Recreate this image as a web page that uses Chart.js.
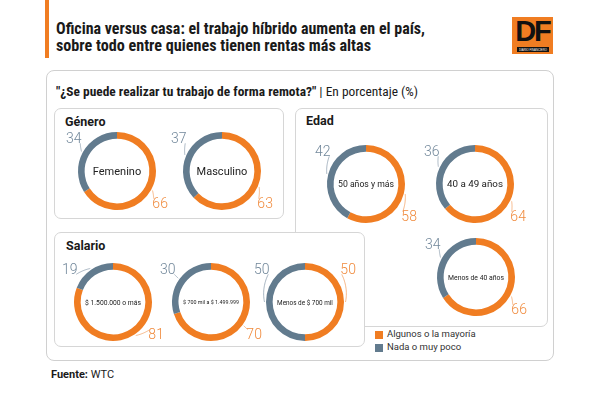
<!DOCTYPE html>
<html>
<head>
<meta charset="utf-8">
<script src="https://cdn.jsdelivr.net/npm/chart.js@4.4.1/dist/chart.umd.min.js"></script>
<style>
  html, body { margin: 0; padding: 0; background: #fff; }
  #page { position: relative; width: 600px; height: 394px; overflow: hidden; font-family: Roboto, "Noto Sans", sans-serif; color: #1a1a1a; }
  .abs { position: absolute; }
  .fit { white-space: nowrap; transform-origin: 0 50%; display: inline-block; }
  .narrow { font-family: "Liberation Sans Narrow", "Roboto Condensed", Roboto, sans-serif; }
  .box { position: absolute; border: 1px solid #d6d6d6; border-radius: 7px; background: #fff; box-sizing: border-box; }
  .boxTitle { position: absolute; font-weight: 700; font-size: 12.5px; }
  canvas { position: absolute; }
  .sw { position: absolute; width: 8px; height: 8px; }
  .lg { position: absolute; font-size: 9.5px; color: #333; }
</style>
</head>
<body>
<div id="page">
  <div class="abs" style="left:45px;top:0;width:4px;height:58px;background:#f07d22"></div>
  <div class="abs narrow" style="left:56px;top:20px;font-weight:700;font-size:16px;line-height:17px;color:#1a1a1a">
    <span class="fit" data-w="369">Oficina versus casa: el trabajo híbrido aumenta en el país,</span><br>
    <span class="fit" data-w="315">sobre todo entre quienes tienen rentas más altas</span>
  </div>
  <!-- logo -->
  <div class="abs" style="left:512px;top:17px;width:41px;height:37px;background:#f07d22"></div>
  <div class="abs" style="left:512px;top:17px;width:41px;text-align:center;font-family:'Liberation Sans',Arial,sans-serif;font-weight:700;font-size:29px;line-height:29px;letter-spacing:-2px;color:#111">DF</div>
  <div class="abs" style="left:517px;top:47px;width:32px;height:5px;background:#111"></div>
  <div class="abs" style="left:519px;top:47px;font-size:4px;line-height:5px;color:#fff;font-family:'Liberation Sans',sans-serif"><span class="fit" data-w="28">DIARIO FINANCIERO</span></div>

  <div class="box" style="left:46px;top:70px;width:508px;height:291px;border-color:#d0d0d0;border-radius:8px"></div>
  <div class="abs narrow" style="left:56px;top:84px;font-size:13px;line-height:16px">
    <span class="fit" data-w="362"><b>"¿Se puede realizar tu trabajo de forma remota?"</b> | En porcentaje (%)</span>
  </div>

  <div class="box" style="left:54px;top:108px;width:230px;height:111px"></div>
  <div class="boxTitle" style="left:65px;top:114px">Género</div>
  <div class="box" style="left:295px;top:108px;width:253px;height:219px"></div>
  <div class="boxTitle" style="left:306px;top:113px">Edad</div>
  <div class="box" style="left:54px;top:232px;width:311px;height:115px"></div>
  <div class="boxTitle" style="left:66px;top:238px">Salario</div>

  <div class="sw" style="left:375px;top:331px" id="sw0"></div>
  <div class="lg" style="left:387px;top:328px" id="lg0"></div>
  <div class="sw" style="left:375px;top:344px" id="sw1"></div>
  <div class="lg" style="left:387px;top:341px" id="lg1"></div>

  <div class="abs" style="left:51px;top:368px;font-size:11px"><b>Fuente:</b> WTC</div>
</div>

<script>
// data
const seriesNames = ['Algunos o la mayoría', 'Nada o muy poco'];

const generoLabels = ['Femenino', 'Masculino'];
const generoMayoria = [66, 63];
const generoPoco = [34, 37];

const edadLabels = ['50 años y más', '40 a 49 años', 'Menos de 40 años'];
const edadMayoria = [58, 64, 66];
const edadPoco = [42, 36, 34];

const salarioLabels = ['$ 1.500.000 o más', '$ 700 mil a $ 1.499.999', 'Menos de $ 700 mil'];
const salarioMayoria = [81, 70, 50];
const salarioPoco = [19, 30, 50];

const ORANGE = '#f07d22';
const GREY = '#627b8e';
const TXT_COLORS = ['#f08a3c', '#71879a'];

// where each ring sits on the page (centre points of the canvases)
const generoPos = [[117, 171], [222, 171]];
const edadPos = [[366, 184], [475, 184], [476, 277]];
const salarioPos = [[113, 302], [211, 302], [305, 302]];

document.querySelectorAll('.fit').forEach(function (el) {
    const w = el.getBoundingClientRect().width;
    el.style.transform = 'scaleX(' + (parseFloat(el.dataset.w) / w) + ')';
});

document.getElementById('sw0').style.background = ORANGE;
document.getElementById('sw1').style.background = GREY;
document.getElementById('lg0').textContent = seriesNames[0];
document.getElementById('lg1').textContent = seriesNames[1];

// label directions (clock degrees); nearest one to the slice middle is used
const DIRS = [53, 127, 233, 307];

const ringLabels = {
    id: 'ringLabels',
    afterDatasetsDraw(chart) {
        const ctx = chart.ctx;
        const meta = chart.getDatasetMeta(0);
        const ds = chart.data.datasets[0];
        ctx.save();
        meta.data.forEach(function (arc, i) {
            const p = arc.getProps(['x', 'y', 'startAngle', 'endAngle', 'outerRadius'], true);
            const R = p.outerRadius;
            let mid = (p.startAngle + p.endAngle) / 2 + Math.PI / 2;
            mid = (mid + Math.PI * 4) % (Math.PI * 2);
            let best = null, bestScore = Infinity;
            DIRS.forEach(function (d) {
                const r = d * Math.PI / 180;
                let diff = Math.abs(r - mid);
                if (diff > Math.PI) diff = Math.PI * 2 - diff;
                const score = diff - 0.001 * Math.cos(r);
                if (score < bestScore) { bestScore = score; best = r; }
            });
            // leader: small spiral from the ring to the label
            let a0 = mid, a1 = best;
            if (a1 - a0 > Math.PI) a1 -= Math.PI * 2;
            if (a0 - a1 > Math.PI) a1 += Math.PI * 2;
            ctx.strokeStyle = TXT_COLORS[i];
            ctx.globalAlpha = 0.75;
            ctx.lineWidth = 0.8;
            ctx.beginPath();
            for (let k = 0; k <= 20; k++) {
                const t = k / 20;
                const a = a0 + (a1 - a0) * t;
                const rr = R + 1.5 + 5.5 * t;
                const px = p.x + rr * Math.sin(a), py = p.y - rr * Math.cos(a);
                if (k === 0) ctx.moveTo(px, py); else ctx.lineTo(px, py);
            }
            ctx.stroke();
            ctx.globalAlpha = 1;
            ctx.fillStyle = TXT_COLORS[i];
            ctx.font = '300 14px Roboto, sans-serif';
            ctx.textAlign = 'center';
            ctx.textBaseline = 'middle';
            const lr = R + 15;
            ctx.fillText(String(ds.data[i]), p.x + lr * Math.sin(best), p.y - lr * Math.cos(best) + 1);
        });
        // centre text, shrunk to fit
        const c = meta.data[0];
        const name = chart.options.plugins.ringLabels.name;
        let size = 11;
        ctx.font = size + 'px Roboto, sans-serif';
        const w = ctx.measureText(name).width;
        if (w > 56) { size = size * 56 / w; ctx.font = size + 'px Roboto, sans-serif'; }
        ctx.fillStyle = '#222';
        ctx.textAlign = 'center';
        ctx.textBaseline = 'middle';
        ctx.fillText(name, c.x, c.y + 1);
        ctx.restore();
    }
};

function makeRing(name, mayoria, poco, pos) {
    const cv = document.createElement('canvas');
    cv.width = 160;
    cv.height = 130;
    cv.style.left = (pos[0] - 80) + 'px';
    cv.style.top = (pos[1] - 65) + 'px';
    document.getElementById('page').appendChild(cv);
    new Chart(cv.getContext('2d'), {
        type: 'doughnut',
        data: {
            labels: seriesNames,
            datasets: [{
                data: [mayoria, poco],
                backgroundColor: [ORANGE, GREY],
                borderWidth: 0,
                hoverOffset: 0
            }]
        },
        options: {
            responsive: false,
            animation: false,
            events: [],
            radius: 39,
            cutout: '83%',
            plugins: {
                legend: { display: false },
                tooltip: { enabled: false },
                ringLabels: { name: name }
            }
        },
        plugins: [ringLabels]
    });
}

generoLabels.forEach((n, i) => makeRing(n, generoMayoria[i], generoPoco[i], generoPos[i]));
edadLabels.forEach((n, i) => makeRing(n, edadMayoria[i], edadPoco[i], edadPos[i]));
salarioLabels.forEach((n, i) => makeRing(n, salarioMayoria[i], salarioPoco[i], salarioPos[i]));
</script>
</body>
</html>
